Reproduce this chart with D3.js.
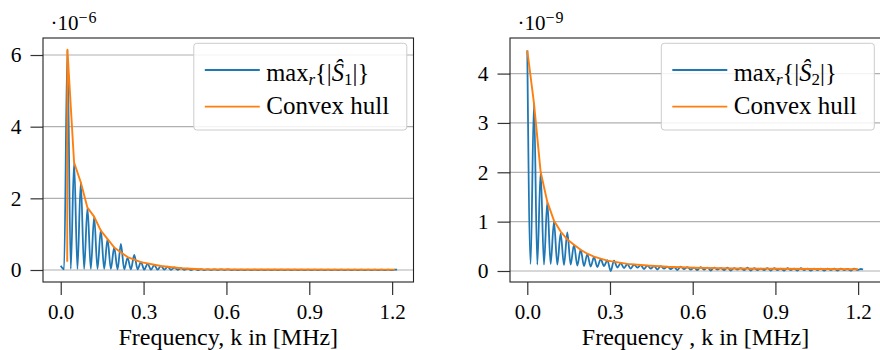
<!DOCTYPE html>
<html>
<head>
<meta charset="utf-8">
<script src="https://cdn.jsdelivr.net/npm/d3@7"></script>
<style>
  body { margin: 0; background: #fff; }
  svg { display: block; }
  text { font-family: "Liberation Serif", "Times New Roman", serif; fill: #000; }
</style>
</head>
<body>
<svg id="chart" width="880" height="350"></svg>
<script>
// Frequency samples in MHz (alternating spectral peak / trough positions)
const freqGrid = [
  0, 0.0121, 0.0242, 0.0363, 0.0484, 0.0605, 0.0726, 0.0847, 0.0968, 0.1089,
  0.121, 0.1331, 0.1452, 0.1573, 0.1694, 0.1815, 0.1936, 0.2057, 0.2178, 0.2299,
  0.242, 0.2541, 0.2662, 0.2783, 0.2904, 0.3025, 0.3146, 0.3267, 0.3388, 0.3509,
  0.363, 0.3751, 0.3872, 0.3993, 0.4114, 0.4235, 0.4356, 0.4477, 0.4598, 0.4719,
  0.484, 0.4961, 0.5082, 0.5203, 0.5324, 0.5445, 0.5566, 0.5687, 0.5808, 0.5929,
  0.605, 0.6171, 0.6292, 0.6413, 0.6534, 0.6655, 0.6776, 0.6897, 0.7018, 0.7139,
  0.726, 0.7381, 0.7502, 0.7623, 0.7744, 0.7865, 0.7986, 0.8107, 0.8228, 0.8349,
  0.847, 0.8591, 0.8712, 0.8833, 0.8954, 0.9075, 0.9196, 0.9317, 0.9438, 0.9559,
  0.968, 0.9801, 0.9922, 1.0043, 1.0164, 1.0285, 1.0406, 1.0527, 1.0648, 1.0769,
  1.089, 1.1011, 1.1132, 1.1253, 1.1374, 1.1495, 1.1616, 1.1737, 1.1858, 1.1979,
  1.21, 1.218
];

// max_r{|S1|}, units of 1e-6
const magS1 = [
  0.12, 0.02, 6.15, 0.03, 3.00, 0.03, 2.45, 0.03, 1.74, 0.03,
  1.49, 0.03, 1.12, 0.03, 0.86, 0.03, 0.63, 0.02, 0.73, 0.02,
  0.34, 0.02, 0.42, 0.02, 0.22, 0.01, 0.18, 0.01, 0.14, 0.01,
  0.11, 0.01, 0.09, 0.005, 0.07, 0.005, 0.05, 0.005, 0.04, 0,
  0.03, 0, 0.025, 0, 0.02, 0, 0.02, 0, 0.015, 0,
  0.015, 0, 0.012, 0, 0.013, 0, 0.011, 0, 0.012, 0,
  0.012, 0, 0.011, 0, 0.012, 0, 0.01, 0, 0.012, 0,
  0.011, 0, 0.012, 0, 0.01, 0, 0.011, 0, 0.012, 0,
  0.01, 0, 0.011, 0, 0.012, 0, 0.01, 0, 0.011, 0,
  0.01, 0, 0.011, 0, 0.01, 0, 0.011, 0, 0.01, 0,
  0.011, 0.01
];

// convex hull of S1 spectrum
const hullFreqS1 = [0.0235, 0.0242, 0.0484, 0.0726, 0.0968, 0.121, 0.1452, 0.1936, 0.242, 0.2904, 0.363, 0.4356, 0.508, 0.75, 1.21];
const hullMagS1  = [0.23, 6.15, 3.00, 2.45, 1.74, 1.49, 1.10, 0.63, 0.36, 0.22, 0.11, 0.05, 0.02, 0.012, 0.01];

// max_r{|S2|}, units of 1e-9
const magS2 = [
  4.47, 0.14, 3.40, 0.13, 2.01, 0.13, 1.40, 0.14, 1.00, 0.13,
  0.76, 0.12, 0.78, 0.13, 0.53, 0.11, 0.43, 0.10, 0.34, 0.09,
  0.28, 0.08, 0.24, 0.10, 0.22, 0.00, 0.21, 0.07, 0.16, 0.06,
  0.14, 0.05, 0.13, 0.07, 0.12, 0.04, 0.11, 0.05, 0.10, 0.03,
  0.10, 0.05, 0.09, 0.04, 0.08, 0.02, 0.09, 0.04, 0.08, 0.03,
  0.07, 0.02, 0.08, 0.03, 0.07, 0.01, 0.07, 0.03, 0.06, 0.02,
  0.07, 0.01, 0.06, 0.03, 0.06, 0.02, 0.07, 0.01, 0.06, 0.02,
  0.05, 0.02, 0.06, 0.01, 0.06, 0.02, 0.05, 0.01, 0.06, 0.02,
  0.05, 0.01, 0.06, 0.02, 0.05, 0.01, 0.05, 0.02, 0.05, 0.01,
  0.05, 0.02, 0.05, 0.01, 0.05, 0.02, 0.04, 0.01, 0.05, 0.02,
  0.04, 0.03
];

// convex hull of S2 spectrum
const hullFreqS2 = [0, 0.0242, 0.0484, 0.0726, 0.0968, 0.121, 0.1452, 0.1694, 0.1936, 0.2178, 0.242, 0.2904, 0.363, 0.4356, 0.508, 0.605, 0.75, 0.9, 1.05, 1.2];
const hullMagS2  = [4.47, 3.40, 2.01, 1.40, 1.02, 0.80, 0.64, 0.53, 0.43, 0.35, 0.29, 0.21, 0.145, 0.11, 0.085, 0.065, 0.052, 0.045, 0.04, 0.035];

const xTicks = [0, 0.3, 0.6, 0.9, 1.2];
const yTicksS1 = [0, 2, 4, 6];
const yTicksS2 = [0, 1, 2, 3, 4];
const xTitleS1 = "Frequency, k in [MHz]";
const xTitleS2 = "Frequency , k in [MHz]";
const exponentS1 = "−6";
const exponentS2 = "−9";
const legendHull = "Convex hull";

const BLUE = "#1f77b4", ORANGE = "#ff7f0e";
const svg = d3.select("#chart");

const panels = [
  { id: "s1", left: 43, right: 413.5, freq: freqGrid, mag: magS1, hf: hullFreqS1, hm: hullMagS1,
    xDomain: [-0.0642, 1.2774], yDomain: [-0.335, 6.475], yTicks: yTicksS1,
    title: xTitleS1, exp: exponentS1, idx: "1" },
  { id: "s2", left: 510, right: 881, freq: freqGrid, mag: magS2, hf: hullFreqS2, hm: hullMagS2,
    xDomain: [-0.0627, 1.2830], yDomain: [-0.223, 4.721], yTicks: yTicksS2,
    title: xTitleS2, exp: exponentS2, idx: "2" }
];
const plotTop = 38, plotBottom = 282;

panels.forEach(p => {
  const w = p.right - p.left, h = plotBottom - plotTop;
  const g = svg.append("g").attr("transform", `translate(${p.left},${plotTop})`);
  const x = d3.scaleLinear().domain(p.xDomain).range([0, w]);
  const y = d3.scaleLinear().domain(p.yDomain).range([h, 0]);

  g.append("clipPath").attr("id", "clip-" + p.id)
    .append("rect").attr("width", w).attr("height", h);

  // horizontal grid
  g.append("g").selectAll("line").data(p.yTicks).join("line")
    .attr("x1", 0).attr("x2", w)
    .attr("y1", d => y(d)).attr("y2", d => y(d))
    .attr("stroke", "#b0b0b0").attr("stroke-width", 1.2);

  // axes
  const yAxis = g.append("g")
    .call(d3.axisLeft(y).tickValues(p.yTicks).tickSize(12.5).tickPadding(9).tickFormat(d3.format("d")));
  const xAxis = g.append("g").attr("transform", `translate(0,${h})`)
    .call(d3.axisBottom(x).tickValues(xTicks).tickSize(13).tickPadding(9.5).tickFormat(d3.format(".1f")));
  [xAxis, yAxis].forEach(a => {
    a.select(".domain").remove();
    a.selectAll(".tick line").attr("stroke", "#333").attr("stroke-width", 1.2);
    a.selectAll(".tick text").attr("font-size", 21.5).attr("font-family", "Liberation Serif");
  });
  xAxis.selectAll(".tick text").attr("font-size", 21).attr("dy", "0.69em");

  // data
  const plot = g.append("g").attr("clip-path", `url(#clip-${p.id})`);
  const blue = d3.line().x((d, i) => x(p.freq[i])).y(d => y(d)).curve(d3.curveMonotoneX);
  plot.append("path").attr("d", blue(p.mag))
    .attr("fill", "none").attr("stroke", BLUE).attr("stroke-width", 1.8).attr("stroke-linejoin", "round");
  const hull = d3.line().x((d, i) => x(p.hf[i])).y(d => y(d));
  plot.append("path").attr("d", hull(p.hm))
    .attr("fill", "none").attr("stroke", ORANGE).attr("stroke-width", 1.9).attr("stroke-linejoin", "round");

  // frame
  g.append("rect").attr("width", w).attr("height", h)
    .attr("fill", "none").attr("stroke", "#222").attr("stroke-width", 1.1);

  // scale exponent
  const ex = g.append("text").attr("x", 7.5).attr("y", -8).attr("font-size", 21);
  ex.append("tspan").text("·10");
  ex.append("tspan").attr("dy", -7.5).attr("font-size", 16).attr("letter-spacing", 1).text(p.exp);

  // axis title
  g.append("text").attr("x", w / 2).attr("y", 345 - plotTop).attr("text-anchor", "middle")
    .attr("font-size", 24).text(p.title);

  // legend
  const lw = 213, lh = 86.7;
  const lx = w - lw - 6.7, ly = 5.3;
  const lg = g.append("g").attr("transform", `translate(${lx},${ly})`);
  lg.append("rect").attr("width", lw).attr("height", lh).attr("rx", 3)
    .attr("fill", "#fff").attr("fill-opacity", 0.85).attr("stroke", "#ccc").attr("stroke-width", 1);
  lg.append("line").attr("x1", 11).attr("x2", 66).attr("y1", 26.7).attr("y2", 26.7)
    .attr("stroke", BLUE).attr("stroke-width", 1.8);
  lg.append("line").attr("x1", 11).attr("x2", 66).attr("y1", 63.4).attr("y2", 63.4)
    .attr("stroke", ORANGE).attr("stroke-width", 1.8);
  const t1 = lg.append("text").attr("x", 72.5).attr("y", 37.5).attr("font-size", 24.5);
  t1.append("tspan").text("max");
  t1.append("tspan").attr("dy", 4).attr("font-size", 17).attr("font-style", "italic").text("r");
  t1.append("tspan").attr("dy", -4).text("{|");
  t1.append("tspan").attr("font-style", "italic").text("Ŝ");
  t1.append("tspan").attr("dy", 4).attr("font-size", 17).text(p.idx);
  t1.append("tspan").attr("dy", -4).text("|}");
  lg.append("text").attr("x", 72.5).attr("y", 71).attr("font-size", 25).text(legendHull);
});
</script>
</body>
</html>
